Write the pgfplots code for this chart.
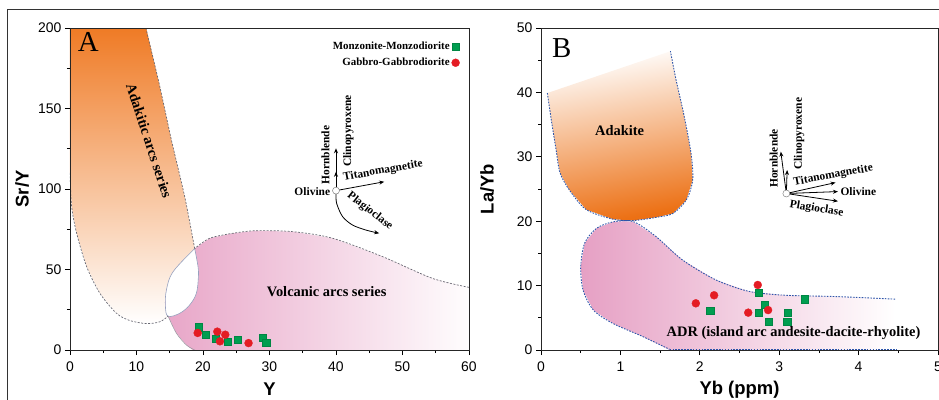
\documentclass[border=0pt]{standalone}
\usepackage{fontspec}
\setmainfont{Liberation Serif}
\setsansfont{Liberation Sans}
\usepackage{pgfplots}
\pgfplotsset{compat=1.18}
\usetikzlibrary{arrows.meta}

\definecolor{orA}{RGB}{239,122,36}
\definecolor{orB}{RGB}{236,112,20}
\definecolor{orMid}{RGB}{250,205,165}
\definecolor{pinkA}{RGB}{232,166,200}
\definecolor{pinkB}{RGB}{230,160,196}
\definecolor{greenM}{RGB}{0,158,80}
\definecolor{redG}{RGB}{228,28,36}
\definecolor{bdash}{RGB}{45,85,170}
\definecolor{gdash}{RGB}{105,105,115}
\definecolor{lens}{RGB}{150,160,190}

\pgfplotsset{
  myaxis/.style={
    scale only axis,
    axis line style={black!85, line width=0.9pt},
    tick align=outside,
    xtick pos=left, ytick pos=left,
    major tick length=5bp, minor tick length=3bp,
    every tick/.style={black, line width=0.8pt},
    minor x tick num=1, minor y tick num=1,
    tick label style={font=\sffamily\fontsize{14}{14}\selectfont},
    xticklabel style={yshift=-3.5bp},
    /pgf/number format/assume math mode=true,
    label style={font=\sffamily\bfseries\fontsize{18.5}{18.5}\selectfont},
    axis on top,
  },
}
\tikzset{
  lbl/.style={font=\bfseries\fontsize{11.5}{11.5}\selectfont, inner sep=0pt},
  rlbl/.style={font=\bfseries\fontsize{14.5}{14.5}\selectfont, inner sep=0pt},
  arr/.style={-{Stealth[length=5bp,width=4bp]}, black, line width=0.8pt},
}

\begin{document}
\begin{tikzpicture}
\useasboundingbox (0,0) rectangle (939bp,-400bp);
\draw[black!80, line width=1bp] (7.5bp,-401bp) -- (7.5bp,-9bp) -- (941bp,-9bp);

% ---------------- Panel A ----------------
\begin{axis}[myaxis, at={(70bp,-350bp)}, anchor=south west,
  width=399bp, height=322bp,
  xmin=0, xmax=60, ymin=0, ymax=200,
  xtick={0,10,...,60}, ytick={0,50,...,200},
  xlabel={Y}, ylabel={Sr/Y},
  xlabel style={at={(axis description cs:0.5,-0.122)}, anchor=center},
  ylabel style={at={(axis description cs:-0.12,0.5)}, anchor=center},
  legend plot pos=right, legend cell align=right,
  legend style={at={(axis description cs:0.977,0.963)}, anchor=north east,
    draw=none, fill=none, font=\bfseries\fontsize{11}{11}\selectfont,
    row sep=3bp, inner sep=0pt},
]
% orange band
\addplot[draw=none, top color=orA, bottom color=white, forget plot] coordinates {
 (-1,201) (-1,110) (0,110) (0.25,89) (1,72.5) (2.5,51.8) (4.5,35.2) (7,22.8) (9,18.3)
 (11.5,16.4) (13.5,17.5) (14.75,21) (16.5,22.8) (18,28) (19,35.2) (19.3,45) (19.25,51.8)
 (18.75,63) (17.25,95.2) (15.25,130.4) (13.4,165.6) (11.4,201)} -- cycle;
% pink region
\addplot[draw=none, left color=pinkA, right color=white, forget plot] coordinates {
 (14.75,21) (16,10.4) (17.5,3.1) (18.75,-1) (61,-1) (61,38.9) (60,38.9) (54.5,44.5) (47,58)
 (39.5,69.4) (33.5,73.5) (28,74.1) (24.5,72.5) (21,69.4) (18.75,63) (15.5,48.6) (14.5,37.3)
 (14.35,27)} -- cycle;
% lens (overlap)
\addplot[fill=white, draw=lens, line width=0.6pt, smooth, tension=0.6, forget plot] coordinates {
 (18.75,63) (15.5,48.6) (14.5,37.3) (14.35,27) (14.75,21) (16.5,22.8) (18,28) (19,35.2)
 (19.3,45) (19.25,51.8) (18.75,63)};
% dashed boundaries
\addplot[gdash, line width=0.7pt, dash pattern=on 2bp off 1.5bp, smooth, forget plot] coordinates {
 (0,110) (0.25,89) (1,72.5) (2.5,51.8) (4.5,35.2) (7,22.8) (9,18.3) (11.5,16.4) (13.5,17.5) (14.75,21)};
\addplot[gdash, line width=0.7pt, dash pattern=on 2bp off 1.5bp, smooth, forget plot] coordinates {
 (18.75,63) (17.25,95.2) (15.25,130.4) (13.4,165.6) (11.4,200)};
\addplot[gdash, line width=0.7pt, dash pattern=on 2bp off 1.5bp, smooth, forget plot] coordinates {
 (60,38.9) (54.5,44.5) (47,58) (39.5,69.4) (33.5,73.5) (28,74.1) (24.5,72.5) (21,69.4) (18.75,63)};
\addplot[gdash!70, line width=0.5pt, smooth, forget plot] coordinates {
 (14.75,21) (16,10.4) (17.5,3.1) (18.75,0)};

% data
\addplot[only marks, mark=square*, mark size=3.6bp, mark options={fill=greenM, draw=greenM!85!black, line width=0.3pt}]
 coordinates {(19.4,14.2) (20.35,9.5) (21.9,7.0) (23.7,5.2) (25.2,6.6) (29.0,7.9) (29.5,4.5)};
\addlegendentry{Monzonite-Monzodiorite}
\addplot[only marks, mark=*, mark size=4bp, mark options={fill=redG, draw=redG, line width=0.3pt}]
 coordinates {(19.2,10.6) (22.15,11.4) (23.35,9.5) (22.55,5.4) (26.85,4.3)};
\addlegendentry{Gabbro-Gabbrodiorite}

% fractionation vectors
\addplot[arr, forget plot] coordinates {(40,99) (40,125.3)};
\addplot[arr, forget plot] coordinates {(40,99) (40,110.7)};
\addplot[arr, forget plot] coordinates {(40,99) (47.25,104.5)};
\addplot[arr, smooth, forget plot] coordinates {(40,97) (40.1,91) (41,82.8) (42.5,77.6) (44.5,74.5) (46.5,72.5)};
\addplot[only marks, mark=*, mark size=3.5bp, mark options={fill=white, draw=gray, line width=0.5pt}, forget plot]
 coordinates {(40,99)};

\node[lbl, anchor=east] at (axis cs:39.15,98.6) {Olivine};
\node[lbl, rotate=90] at (axis cs:38.4,121.1) {Hornblende};
\node[lbl, rotate=90] at (axis cs:41.85,136) {Clinopyroxene};
\node[lbl, rotate=10.3] at (axis cs:47.07,111.3) {Titanomagnetite};
\node[lbl, rotate=-38] at (axis cs:45.1,86.2) {Plagioclase};

\node[rlbl, rotate=-72] at (axis cs:11.9,130) {Adakitic arcs series};
\node[rlbl] at (axis cs:38.6,36.2) {Volcanic arcs series};
\node[font=\fontsize{29}{29}\selectfont, inner sep=0pt] at (axis cs:2.75,191.5) {A};
\end{axis}

% ---------------- Panel B ----------------
\begin{axis}[myaxis, at={(541bp,-350bp)}, anchor=south west,
  width=397bp, height=322bp,
  xmin=0, xmax=5, ymin=0, ymax=50,
  xtick={0,1,...,5}, ytick={0,10,...,50},
  xlabel={Yb (ppm)}, ylabel={La/Yb},
  xlabel style={at={(axis description cs:0.5,-0.122)}, anchor=center},
  ylabel style={at={(axis description cs:-0.1357,0.5)}, anchor=center},
]
% adakite
\addplot[draw=none, top color=white, middle color=orMid, bottom color=orB, shading angle=10, forget plot] coordinates {
 (0.08,39.9) (0.13,35.7) (0.19,31.1) (0.24,27.5) (0.36,24.8) (0.57,21.8) (0.91,20.3) (1.16,20.1)
 (1.45,20.6) (1.66,21.2) (1.83,23.3) (1.91,26.4) (1.89,30.5) (1.80,36.5) (1.70,42) (1.63,46.4)} -- cycle;
\addplot[bdash, line width=0.9pt, dash pattern=on 1.6bp off 1.3bp, smooth, forget plot] coordinates {
 (0.08,39.9) (0.13,35.7) (0.19,31.1) (0.24,27.5) (0.36,24.8) (0.57,21.8) (0.91,20.3) (1.16,20.1)
 (1.45,20.6) (1.66,21.2) (1.83,23.3) (1.91,26.4) (1.89,30.5) (1.80,36.5) (1.70,42) (1.63,46.4)};
% ADR
\addplot[draw=none, left color=pinkB, right color=white, forget plot] coordinates {
 (1.05,20.0) (1.16,19.9) (1.45,17.6) (1.78,14.0) (2.2,10.9) (2.62,9.1) (3.08,8.5) (3.71,8.3)
 (4.46,7.9) (4.46,0) (1.62,0) (1.28,2.1) (0.91,4.1) (0.66,6.2) (0.53,9.3) (0.50,12.9)
 (0.55,16.6) (0.70,18.9) (0.91,19.9)} -- cycle;
\addplot[bdash, line width=0.9pt, dash pattern=on 1.6bp off 1.3bp, smooth, forget plot] coordinates {
 (4.46,7.9) (3.71,8.3) (3.08,8.5) (2.62,9.1) (2.2,10.9) (1.78,14.0) (1.45,17.6) (1.16,19.95)
 (0.91,19.9) (0.70,18.9) (0.55,16.6) (0.50,12.9) (0.53,9.3) (0.66,6.2) (0.91,4.1) (1.28,2.1) (1.62,0.1)};
\addplot[bdash, line width=0.9pt, dash pattern=on 1.6bp off 1.3bp, forget plot] coordinates {
 (1.62,0.15) (4.47,0.15)};

% data
\addplot[only marks, mark=square*, mark size=3.6bp, mark options={fill=greenM, draw=greenM!85!black, line width=0.3pt}]
 coordinates {(2.13,6.05) (2.74,8.9) (2.82,7.1) (2.74,5.85) (3.11,5.85) (2.87,4.4) (3.10,4.4) (3.32,7.9)};
\addplot[only marks, mark=*, mark size=4bp, mark options={fill=redG, draw=redG, line width=0.3pt}]
 coordinates {(1.95,7.25) (2.18,8.5) (2.73,10.1) (2.61,5.8) (2.86,6.2)};

% vectors
\addplot[arr, forget plot] coordinates {(3.09,24.3) (3.02,30.8)};
\addplot[arr, forget plot] coordinates {(3.09,24.3) (3.10,27.95)};
\addplot[arr, forget plot] coordinates {(3.09,24.3) (3.71,26.0)};
\addplot[arr, forget plot] coordinates {(3.09,24.3) (3.74,24.6)};
\addplot[arr, forget plot] coordinates {(3.09,24.3) (3.74,23.1)};
\addplot[only marks, mark=*, mark size=3.5bp, mark options={fill=white, draw=gray, line width=0.5pt}, forget plot]
 coordinates {(3.09,24.3)};

\node[lbl, rotate=90] at (axis cs:2.93,29.75) {Hornblende};
\node[lbl, rotate=90] at (axis cs:3.25,33.6) {Clinopyroxene};
\node[lbl, rotate=10.5] at (axis cs:3.68,27.1) {Titanomagnetite};
\node[lbl, anchor=west] at (axis cs:3.77,24.6) {Olivine};
\node[lbl, rotate=-9] at (axis cs:3.47,21.9) {Plagioclase};

\node[rlbl] at (axis cs:0.99,34.1) {Adakite};
\node[rlbl] at (axis cs:3.18,2.6) {ADR (island arc andesite-dacite-rhyolite)};
\node[font=\fontsize{29}{29}\selectfont, inner sep=0pt] at (axis cs:0.26,46.9) {B};
\end{axis}
\end{tikzpicture}
\end{document}
